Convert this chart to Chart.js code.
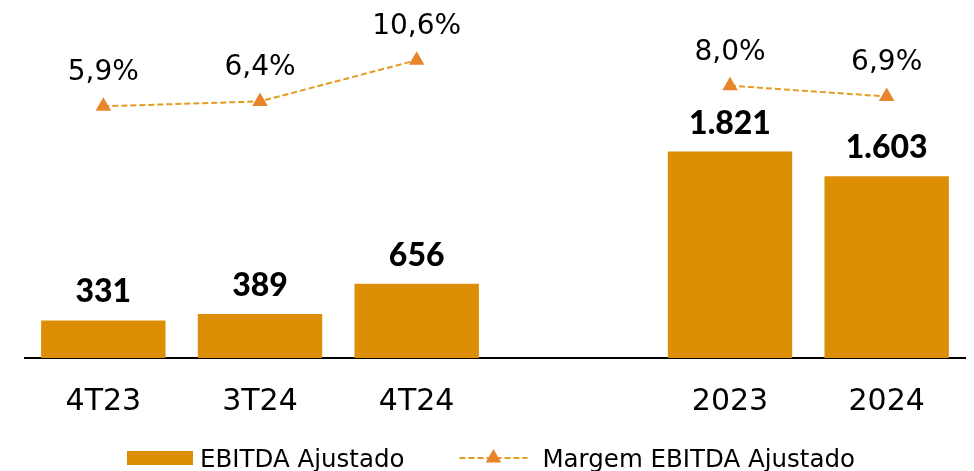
<!DOCTYPE html>
<html>
<head>
<meta charset="utf-8">
<script src="https://cdn.jsdelivr.net/npm/chart.js@4"></script>
<style>
  html, body { margin: 0; padding: 0; background: #ffffff; overflow: hidden; }
  #wrap { position: relative; width: 974px; height: 471px; }
  #wrap canvas { display: block; }
</style>
</head>
<body>
<div id="wrap"><canvas id="ebitdaChart"></canvas></div>
<script>
// categories (index 3 is the empty gap between quarters and years)
const categories = ['4T23', '3T24', '4T24', '', '2023', '2024'];
// EBITDA Ajustado (R$ mi)
const ebitdaValues = [331, 389, 656, null, 1821, 1603];
// Margem EBITDA Ajustado (%)
const marginValues = [5.9, 6.4, 10.6, null, 8.0, 6.9];

const barColor = '#DC8E05';
const lineColor = '#E39C22';
const markerColor = '#E8842C';
const textFont = '"DejaVu Sans", sans-serif';
const boldFont = 'Lato, "DejaVu Sans", sans-serif';

function fmtThousands(v) {
    return String(v).replace(/\B(?=(\d{3})+(?!\d))/g, '.');
}
function fmtPercent(v) {
    return v.toFixed(1).replace('.', ',') + '%';
}

// value labels above bars and points
const valueLabels = {
    id: 'valueLabels',
    afterDatasetsDraw(chart) {
        const ctx = chart.ctx;
        ctx.save();
        ctx.textAlign = 'center';
        ctx.textBaseline = 'alphabetic';
        ctx.fillStyle = '#000000';
        chart.getDatasetMeta(1).data.forEach(function(bar, i) {
            const v = ebitdaValues[i];
            if (v === null) return;
            ctx.font = '900 32px ' + boldFont;
            ctx.fillText(fmtThousands(v), bar.x, bar.y - 18);
        });
        chart.getDatasetMeta(0).data.forEach(function(pt, i) {
            const v = marginValues[i];
            if (v === null) return;
            ctx.font = '28px ' + textFont;
            ctx.fillText(fmtPercent(v), pt.x, pt.y - 26);
        });
        ctx.restore();
    }
};

// legend drawn under the axis labels
const bottomLegend = {
    id: 'bottomLegend',
    afterDraw(chart) {
        const ctx = chart.ctx;
        const label1 = chart.data.datasets[1].label;
        const label2 = chart.data.datasets[0].label;
        ctx.save();
        ctx.font = '24.5px ' + textFont;
        const w1 = ctx.measureText(label1).width;
        const w2 = ctx.measureText(label2).width;
        const total = 66 + 7 + w1 + 55 + 68 + 15 + w2;
        let x = (chart.width - total) / 2 + 4;
        const cy = chart.height - 13;

        ctx.fillStyle = barColor;
        ctx.fillRect(x, cy - 7, 66, 14);
        x += 66 + 7;
        ctx.fillStyle = '#000000';
        ctx.textBaseline = 'alphabetic';
        ctx.fillText(label1, x, cy + 9);
        x += w1 + 55;

        ctx.strokeStyle = lineColor;
        ctx.lineWidth = 2;
        ctx.setLineDash([6, 3]);
        ctx.beginPath();
        ctx.moveTo(x, cy);
        ctx.lineTo(x + 68, cy);
        ctx.stroke();
        ctx.setLineDash([]);
        const tx = x + 34, r = 9;
        ctx.fillStyle = markerColor;
        ctx.beginPath();
        ctx.moveTo(tx, cy - r);
        ctx.lineTo(tx + r * 0.866, cy + r / 2);
        ctx.lineTo(tx - r * 0.866, cy + r / 2);
        ctx.closePath();
        ctx.fill();
        x += 68 + 15;
        ctx.fillStyle = '#000000';
        ctx.fillText(label2, x, cy + 9);
        ctx.restore();
    }
};

const ctx = document.getElementById('ebitdaChart').getContext('2d');
new Chart(ctx, {
    type: 'bar',
    data: {
        labels: categories,
        datasets: [{
            type: 'line',
            label: 'Margem EBITDA Ajustado',
            data: marginValues,
            yAxisID: 'y2',
            order: 0,
            borderColor: lineColor,
            borderWidth: 2,
            borderDash: [6, 3],
            fill: false,
            tension: 0,
            spanGaps: false,
            pointStyle: 'triangle',
            pointRadius: 9,
            pointHoverRadius: 9,
            pointBackgroundColor: markerColor,
            pointBorderWidth: 0
        }, {
            label: 'EBITDA Ajustado',
            data: ebitdaValues,
            yAxisID: 'y',
            order: 1,
            backgroundColor: barColor,
            borderWidth: 0,
            categoryPercentage: 1,
            barPercentage: 0.794
        }]
    },
    options: {
        responsive: true,
        maintainAspectRatio: false,
        animation: false,
        layout: {
            padding: { left: 25, right: 5, top: 10, bottom: 25 }
        },
        scales: {
            x: {
                grid: { display: false, drawTicks: false },
                border: { display: true, color: '#000000', width: 2 },
                ticks: {
                    color: '#000000',
                    padding: 26,
                    font: { family: textFont, size: 30 },
                    autoSkip: false,
                    maxRotation: 0
                }
            },
            y: {
                display: false,
                min: 0,
                max: 3070
            },
            y2: {
                display: false,
                min: -19.74,
                max: 15.71
            }
        },
        plugins: {
            legend: { display: false },
            tooltip: { enabled: false }
        }
    },
    plugins: [valueLabels, bottomLegend]
});
</script>
</body>
</html>
